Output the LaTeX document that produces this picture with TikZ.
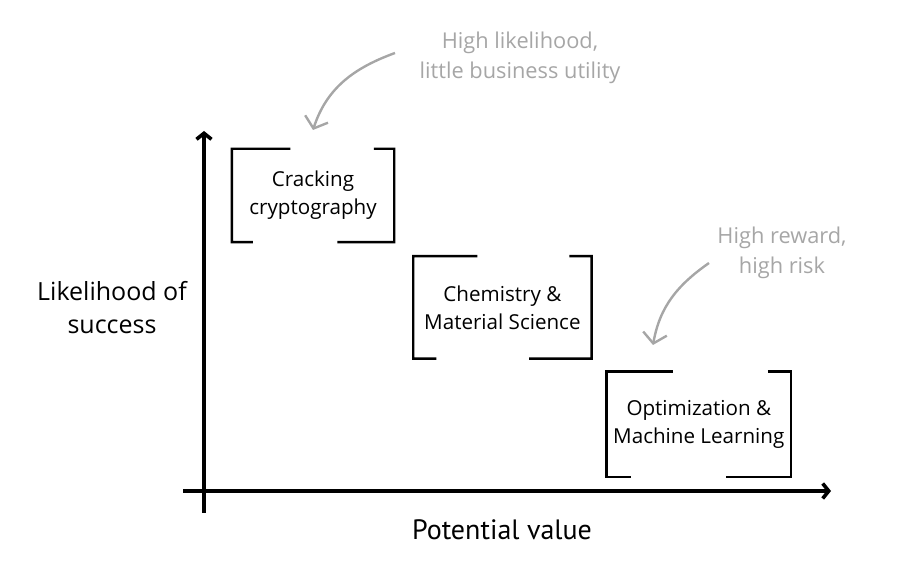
\documentclass[tikz,border=0pt]{standalone}
\usepackage{fontspec}
\setmainfont{Open Sans}
\newfontfamily\notefont{Open Sans}
\newfontfamily\axisfont{PT Sans}
\usetikzlibrary{arrows.meta,positioning,calc}
\definecolor{notegray}{HTML}{A6A6A6}

% open bracket frame round an area node
\newcommand{\brackets}[1]{%
  \draw[bracket] ($(#1.north west)!0.36!(#1.north east)$) -| (#1.south west) -- ($(#1.south west)!0.13!(#1.south east)$);
  \draw[bracket] ($(#1.north east)!0.125!(#1.north west)$) -| (#1.south east) -- ($(#1.south east)!0.35!(#1.south west)$);
}

\begin{document}
\begin{tikzpicture}[
  x=1pt, y=1pt,
  area/.style={align=center, inner sep=0pt, font=\fontsize{20.6}{28}\selectfont},
  bracket/.style={line width=2.4pt},
  axis/.style={line width=3.6pt, -{Straight Barb[length=6pt,width=15pt]}},
  note/.style={text=notegray, align=center, font=\notefont\fontsize{21.8}{30}\selectfont},
  notearr/.style={draw=notegray, line width=2.4pt, -{Straight Barb[length=10pt,width=24pt]}}
]
\useasboundingbox (0,0) rectangle (900,568);

% axes
\coordinate (ybot) at (204,55);
\coordinate (ytop) at (204,437);
\coordinate (xleft) at (183,77);
\coordinate (xright) at (831,77);
\draw[axis] (ybot) -- (ytop);
\draw[axis] (xleft) -- (xright);
\node[align=center, font=\fontsize{25}{33}\selectfont] (ylab) at (112,260) {Likelihood of\\success};
\node[font=\axisfont\fontsize{28}{28}\selectfont] (xlab) at (502,38) {Potential value};

% areas
\node[area, minimum width=162pt, minimum height=93pt] (crypto) at (313,372.5) {Cracking\\cryptography};
\node[area, minimum width=178pt, minimum height=102pt, below right=14pt and 19pt of crypto] (chem) {Chemistry \&\\Material Science};
\node[area, minimum width=184pt, minimum height=105pt, below right=13pt and 15pt of chem] (optim) {Optimization \&\\Machine Learning};
\brackets{crypto}
\brackets{chem}
\brackets{optim}

% notes
\node[note] (note1) at (520,510) {High likelihood,\\little business utility};
\node[note] (note2) at (782,315) {High reward,\\high risk};
\coordinate (n1s) at (395,515);
\coordinate (n1e) at (313,438);
\coordinate (n2s) at (709,305);
\coordinate (n2e) at (653,223);
\draw[notearr] (n1s) to[out=200, in=72] (n1e);
\draw[notearr] (n2s) to[out=215, in=80] (n2e);
\end{tikzpicture}
\end{document}
